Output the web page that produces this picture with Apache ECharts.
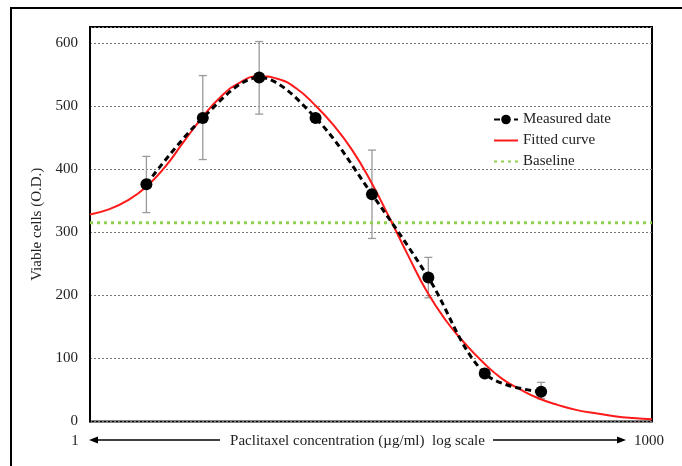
<!DOCTYPE html>
<html>
<head>
<meta charset="utf-8">
<script src="https://cdn.jsdelivr.net/npm/echarts@6/dist/echarts.min.js"></script>
<style>
html,body{margin:0;padding:0;background:#fff;}
#chart{width:682px;height:466px;}
</style>
</head>
<body>
<div id="chart"></div>
<script>
// Measured data (concentration, µg/ml, log scale)
const measuredX = [2, 4, 8, 16, 32, 64, 128, 256];
const measuredY = [376, 481, 545, 481, 360, 228, 76, 47];
const errLow  = [331, 415, 487, null, 290, 196, null, 36];
const errHigh = [420, 548, 602, null, 430, 260, null, 62];

// Fitted curve at 0.1-decade steps
const fitX = [1, 1.26, 1.58, 2, 2.51, 3.16, 3.98, 5.01, 6.31, 7.94, 10, 12.6, 15.8, 20, 25.1, 31.6, 39.8, 50.1, 63.1, 79.4, 100, 126, 158, 200, 251, 316, 398, 501, 631, 794, 1000];
const fitY = [328, 336, 350, 372, 403, 443, 482, 515, 537, 547, 543, 528, 502, 469, 430, 380, 322, 262, 205, 160, 124, 93, 68, 50, 36, 26, 18, 13, 8.5, 5.5, 3.5];

// Baseline
const baselineX = [1, 1000];
const baselineValue = 315;

const yTicks = [0, 100, 200, 300, 400, 500, 600];
const xTickLabels = ['1', '1000'];
const xTitle = 'Paclitaxel concentration (µg/ml)  log scale';
const yTitle = 'Viable cells (O.D.)';
const legendNames = ['Measured date', 'Fitted curve', 'Baseline'];

const FONT = '"Liberation Serif", "Times New Roman", serif';

const chart = echarts.init(document.getElementById('chart'), null, {renderer: 'canvas'});

const errData = [];
measuredX.forEach((x, i) => {
  if (errLow[i] != null) errData.push([x, errLow[i], errHigh[i]]);
});

const option = {
  backgroundColor: '#fff',
  animation: false,
  grid: {
    left: 90, right: 30, top: 27, bottom: 44.5,
    show: true, borderColor: '#000', borderWidth: 2, backgroundColor: 'transparent'
  },
  legend: {
    orient: 'vertical',
    left: 493, top: 112, padding: 0,
    itemWidth: 24, itemHeight: 12, itemGap: 6,
    data: [
      {name: legendNames[0]},
      {name: legendNames[1], itemStyle: {opacity: 0}},
      {name: legendNames[2], itemStyle: {opacity: 0}}
    ],
    textStyle: {fontFamily: FONT, fontSize: 15, color: '#222'}
  },
  xAxis: {
    type: 'log', logBase: 10, min: 1, max: 1000,
    axisLine: {show: false}, axisTick: {show: false},
    axisLabel: {show: false}, splitLine: {show: false}
  },
  yAxis: {
    type: 'value', min: 0, max: 625, interval: 100,
    name: yTitle, nameLocation: 'middle', nameGap: 45,
    nameTextStyle: {fontFamily: FONT, fontSize: 15, color: '#222'},
    axisLine: {show: true, lineStyle: {color: '#000', width: 2}},
    axisTick: {show: false},
    axisLabel: {
      fontFamily: FONT, fontSize: 15, color: '#222', margin: 12,
      formatter: v => (yTicks.indexOf(v) >= 0 ? String(v) : '')
    },
    splitLine: {show: true, lineStyle: {color: '#777', type: [2, 2], width: 1}}
  },
  graphic: [
    {type: 'rect', shape: {x: 11, y: 8, width: 720, height: 520}, style: {fill: 'none', stroke: '#000', lineWidth: 2}, silent: true},
    {type: 'text', x: 75, y: 441, style: {text: xTickLabels[0], font: '15px ' + FONT, fill: '#222', align: 'center', verticalAlign: 'middle'}},
    {type: 'text', x: 649, y: 441, style: {text: xTickLabels[1], font: '15px ' + FONT, fill: '#222', align: 'center', verticalAlign: 'middle'}},
    {type: 'text', x: 357.5, y: 441, style: {text: xTitle, font: '15px ' + FONT, fill: '#222', align: 'center', verticalAlign: 'middle'}},
    {type: 'line', shape: {x1: 96, y1: 440, x2: 220, y2: 440}, style: {stroke: '#000', lineWidth: 1.3}},
    {type: 'polygon', shape: {points: [[89, 440], [98, 436.5], [98, 443.5]]}, style: {fill: '#000'}},
    {type: 'line', shape: {x1: 493, y1: 440, x2: 619, y2: 440}, style: {stroke: '#000', lineWidth: 1.3}},
    {type: 'polygon', shape: {points: [[626, 440], [617, 436.5], [617, 443.5]]}, style: {fill: '#000'}}
  ],
  series: [
    {
      name: 'errors', type: 'custom', z: 1,
      data: errData,
      renderItem: function (params, api) {
        const x = api.value(0);
        const lo = api.coord([x, api.value(1)]);
        const hi = api.coord([x, api.value(2)]);
        const cap = 4;
        const st = {stroke: '#9a9a9a', lineWidth: 1.3};
        return {
          type: 'group',
          children: [
            {type: 'line', shape: {x1: lo[0], y1: lo[1], x2: hi[0], y2: hi[1]}, style: st},
            {type: 'line', shape: {x1: lo[0] - cap, y1: lo[1], x2: lo[0] + cap, y2: lo[1]}, style: st},
            {type: 'line', shape: {x1: hi[0] - cap, y1: hi[1], x2: hi[0] + cap, y2: hi[1]}, style: st}
          ]
        };
      }
    },
    {
      name: 'Baseline', type: 'line', z: 2,
      data: baselineX.map(x => [x, baselineValue]),
      symbol: 'none',
      lineStyle: {color: '#8fd14f', width: 3, type: [3, 4]},
      itemStyle: {color: '#8fd14f'}
    },
    {
      name: 'Fitted curve', type: 'line', z: 3,
      data: fitX.map((x, i) => [x, fitY[i]]),
      smooth: 0.5, symbol: 'none',
      lineStyle: {color: '#ff1a1a', width: 2},
      itemStyle: {color: '#ff1a1a'}
    },
    {
      name: 'Measured date', type: 'line', z: 4,
      data: measuredX.map((x, i) => [x, measuredY[i]]),
      smooth: 0.35,
      symbol: 'circle', symbolSize: 12,
      lineStyle: {color: '#000', width: 3, type: [6, 4]},
      itemStyle: {color: '#000'}
    }
  ]
};
chart.setOption(option);
</script>
</body>
</html>
